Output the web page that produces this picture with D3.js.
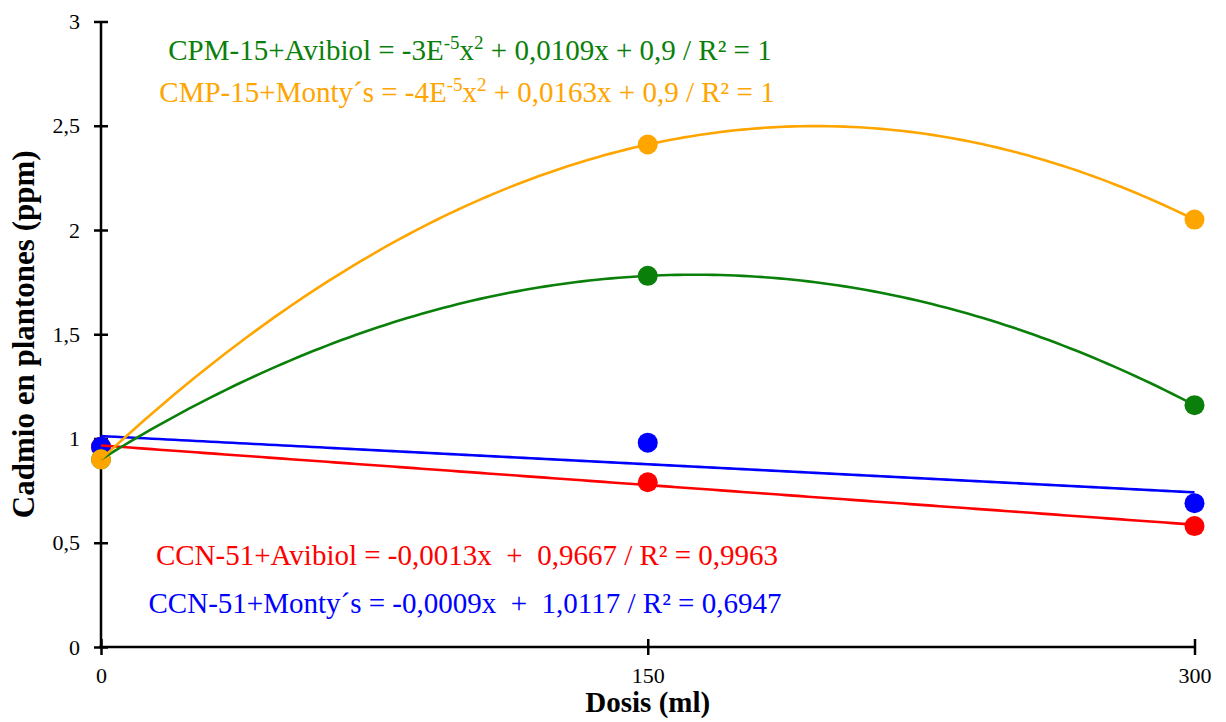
<!DOCTYPE html>
<html>
<head>
<meta charset="utf-8">
<script src="https://cdn.jsdelivr.net/npm/d3@7"></script>
<style>
  html, body { margin: 0; padding: 0; background: #fff; }
  svg text { white-space: pre; }
</style>
</head>
<body>
<svg id="chart" width="1226" height="722"></svg>
<script>
// Doses applied (ml)
const doses = [0, 150, 300];
// Cadmium in seedlings (ppm) per treatment
const cpmAvibiol = [0.90, 1.78, 1.16];
const cmpMontys  = [0.90, 2.41, 2.05];
const ccnAvibiol = [0.96, 0.79, 0.58];
const ccnMontys  = [0.96, 0.98, 0.69];

const yTicks = [0, 0.5, 1, 1.5, 2, 2.5, 3];
const xTicks = [0, 150, 300];

// Series: name, values, colour, trend type
const series = [
  { name: "CCN-51+Avibiol", values: ccnAvibiol, color: "#FF0000", fit: "linear" },
  { name: "CCN-51+Monty´s", values: ccnMontys,  color: "#0000FF", fit: "linear" },
  { name: "CPM-15+Avibiol", values: cpmAvibiol, color: "#0A800A", fit: "poly2" },
  { name: "CMP-15+Monty´s", values: cmpMontys,  color: "#FFA500", fit: "poly2" }
];

// Equation labels: pieces of [text, isSuperscript]
const labels = [
  { color: "#0A800A", x: 470, y: 60, parts: [["CPM-15+Avibiol = -3E", 0], ["-5", 1], ["x", 0], ["2", 1], [" + 0,0109x + 0,9 / R² = 1", 0]] },
  { color: "#FFA500", x: 467, y: 102, parts: [["CMP-15+Monty´s = -4E", 0], ["-5", 1], ["x", 0], ["2", 1], [" + 0,0163x + 0,9 / R² = 1", 0]] },
  { color: "#FF0000", x: 467, y: 565, parts: [["CCN-51+Avibiol = -0,0013x  +  0,9667 / R² = 0,9963", 0]] },
  { color: "#0000FF", x: 465, y: 613, parts: [["CCN-51+Monty´s = -0,0009x  +  1,0117 / R² = 0,6947", 0]] }
];

const FONT = "Liberation Serif";
const svg = d3.select("#chart");
const x = d3.scaleLinear().domain([0, 300]).range([101, 1194.5]);
const y = d3.scaleLinear().domain([0, 3]).range([647, 21.5]);

// Least-squares fits
function linearFit(xs, ys) {
  const n = xs.length, mx = d3.mean(xs), my = d3.mean(ys);
  let sxy = 0, sxx = 0;
  for (let i = 0; i < n; i++) { sxy += (xs[i] - mx) * (ys[i] - my); sxx += (xs[i] - mx) ** 2; }
  const b = sxy / sxx, a = my - b * mx;
  return t => a + b * t;
}
function quadFit(xs, ys) {
  // Normal equations for y = c0 + c1 x + c2 x^2
  const S = k => d3.sum(xs, v => v ** k);
  const T = k => d3.sum(xs.map((v, i) => ys[i] * v ** k));
  const A = [[S(0), S(1), S(2)], [S(1), S(2), S(3)], [S(2), S(3), S(4)]];
  const B = [T(0), T(1), T(2)];
  for (let i = 0; i < 3; i++) {
    for (let j = i + 1; j < 3; j++) {
      const f = A[j][i] / A[i][i];
      for (let k = i; k < 3; k++) A[j][k] -= f * A[i][k];
      B[j] -= f * B[i];
    }
  }
  const c = [0, 0, 0];
  for (let i = 2; i >= 0; i--) {
    let s = B[i];
    for (let k = i + 1; k < 3; k++) s -= A[i][k] * c[k];
    c[i] = s / A[i][i];
  }
  return t => c[0] + c[1] * t + c[2] * t * t;
}

// Axes
const yAxis = svg.append("g").attr("transform", `translate(${x(0)},0)`)
  .call(d3.axisLeft(y).tickValues(yTicks).tickSizeInner(7).tickSizeOuter(0).tickPadding(14)
    .tickFormat(d => String(d).replace(".", ",")));
yAxis.selectAll(".tick line").attr("x1", -7).attr("x2", 7);
const xAxis = svg.append("g").attr("transform", `translate(0,${y(0)})`)
  .call(d3.axisBottom(x).tickValues(xTicks).tickSizeInner(8).tickSizeOuter(0).tickPadding(12)
    .tickFormat(d3.format("d")));
xAxis.selectAll(".tick line").attr("y1", -8).attr("y2", 8);
[yAxis, xAxis].forEach(g => {
  g.attr("font-family", FONT).attr("font-size", 22);
  g.select(".domain").attr("stroke", "#000").attr("stroke-width", 2.5);
  g.selectAll(".tick line").attr("stroke", "#000").attr("stroke-width", 2.5);
  g.selectAll(".tick text").attr("fill", "#000").style("font-size", "22px").style("font-family", FONT);
});
xAxis.select(".domain").attr("d", `M${x(0) - 2},0H${x(300)}`);
yAxis.select(".domain").attr("d", `M0,${y(0) + 1}V${y(3)}`);

// Markers
series.forEach(s => {
  svg.append("g").selectAll("circle").data(doses).join("circle")
    .attr("cx", d => x(d))
    .attr("cy", (d, i) => y(s.values[i]))
    .attr("r", 10)
    .attr("fill", s.color);
});

// Trend lines, drawn over the markers
const xs = d3.range(0, 300.01, 2);
series.forEach(s => {
  const f = s.fit === "linear" ? linearFit(doses, s.values) : quadFit(doses, s.values);
  svg.append("path")
    .datum(xs)
    .attr("fill", "none")
    .attr("stroke", s.color)
    .attr("stroke-width", 2.6)
    .attr("d", d3.line().x(d => x(d)).y(d => y(f(d))));
});

// Equation labels
labels.forEach(l => {
  const t = svg.append("text")
    .attr("x", l.x).attr("y", l.y)
    .attr("text-anchor", "middle")
    .attr("fill", l.color)
    .style("font-family", FONT)
    .style("font-size", "29px");
  l.parts.forEach(([txt, sup], i) => {
    const ts = t.append("tspan").text(txt);
    if (sup) ts.style("font-size", "19px").attr("dy", -11);
    else if (i > 0) ts.attr("dy", 11);
  });
});

// Axis titles
svg.append("text")
  .attr("x", x(150)).attr("y", 712)
  .attr("text-anchor", "middle")
  .style("font-family", FONT).style("font-weight", "bold").style("font-size", "29px")
  .text("Dosis (ml)");
svg.append("text")
  .attr("transform", `translate(34,${y(1.5)}) rotate(-90)`)
  .attr("text-anchor", "middle")
  .style("font-family", FONT).style("font-weight", "bold").style("font-size", "31px")
  .text("Cadmio en plantones (ppm)");
</script>
</body>
</html>
